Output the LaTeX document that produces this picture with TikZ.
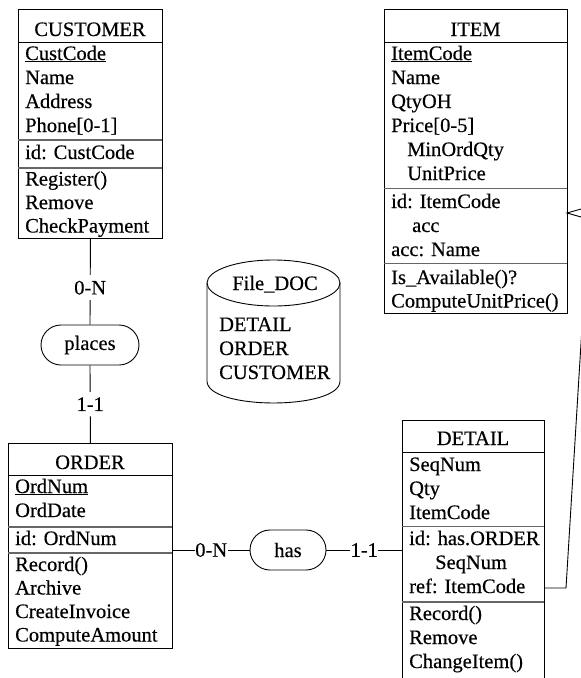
\documentclass[tikz,border=0pt]{standalone}
\usepackage{fontspec}
\setmainfont{Liberation Serif}
\newfontfamily\dbfont{Liberation Serif}[FakeBold=0.4]
\usetikzlibrary{shapes.misc}

\begin{document}
\begin{tikzpicture}[x=1pt,y=-1pt,
  txt/.style={font=\dbfont\fontsize{20.5}{24}\selectfont, inner sep=0pt},
  row/.style={txt, anchor=base west},
  head/.style={txt, anchor=base},
  box/.style={draw, line width=0.9pt, inner sep=0pt, anchor=north west},
  sep/.style={line width=0.9pt},
  sepb/.style={line width=1.3pt, black!60},
  rel/.style={draw, rounded rectangle, line width=0.9pt, txt},
  card/.style={txt, fill=white, inner xsep=0.5pt, inner ysep=5.5pt},
  link/.style={line width=0.9pt}]
\useasboundingbox (0,0) rectangle (581,678);
\clip (0,0) rectangle (581,678);

% ---------- CUSTOMER ----------
\node[box, minimum width=144pt, minimum height=229pt] (cust) at (18,9) {};
\draw[sep]  (18,42)  -- (162,42);
\draw[sepb] (18,140) -- (162,140);
\draw[sepb] (18,168) -- (162,168);
\node[head] (custT) at (90,36) {CUSTOMER};
\node[row] (cust1) at (25,60)  {\underline{CustCode}};
\node[row] (cust2) at (25,84)  {Name};
\node[row] (cust3) at (25,108) {Address};
\node[row] (cust4) at (25,132) {Phone[0-1]};
\node[row] (cust5) at (25,159) {id: CustCode};
\node[row] (cust6) at (25,185.5) {Register()};
\node[row] (cust7) at (25,209) {Remove};
\node[row] (cust8) at (25,232.5) {CheckPayment};

% ---------- ITEM ----------
\node[box, minimum width=183pt, minimum height=304pt] (item) at (384,9) {};
\draw[sep]  (384,42)  -- (567,42);
\draw[sepb] (384,188.5) -- (567,188.5);
\draw[sepb] (384,263.5) -- (567,263.5);
\node[head] (itemT) at (475.5,36) {ITEM};
\node[row] (item1) at (391,60)  {\underline{ItemCode}};
\node[row] (item2) at (391,84)  {Name};
\node[row] (item3) at (391,108) {QtyOH};
\node[row] (item4) at (391,132) {Price[0-5]};
\node[row] (item5) at (407,156) {MinOrdQty};
\node[row] (item6) at (407,180) {UnitPrice};
\node[row] (item7) at (391,208) {id: ItemCode};
\node[row] (item8) at (412,232) {acc};
\node[row] (item9) at (391,256) {acc: Name};
\node[row] (item10) at (391,284) {Is\_Available()?};
\node[row] (item11) at (391,307.5) {ComputeUnitPrice()};

% ---------- ORDER ----------
\node[box, minimum width=164pt, minimum height=205pt] (order) at (8,443) {};
\draw[sep]  (8,475) -- (172,475);
\draw[sepb] (8,527) -- (172,527);
\draw[sepb] (8,553) -- (172,553);
\node[head] (orderT) at (90,469) {ORDER};
\node[row] (ord1) at (15,493) {\underline{OrdNum}};
\node[row] (ord2) at (15,517) {OrdDate};
\node[row] (ord3) at (15,545) {id: OrdNum};
\node[row] (ord4) at (15,571) {Record()};
\node[row] (ord5) at (15,594.5) {Archive};
\node[row] (ord6) at (15,618) {CreateInvoice};
\node[row] (ord7) at (15,641.5) {ComputeAmount};

% ---------- DETAIL ----------
\node[box, minimum width=142pt, minimum height=260pt] (detail) at (402,420) {};
\draw[sep]  (402,452) -- (544,452);
\draw[sepb] (402,526.5) -- (544,526.5);
\draw[sepb] (402,602) -- (544,602);
\node[head] (detT) at (473,445) {DETAIL};
\node[row] (det1) at (409,471) {SeqNum};
\node[row] (det2) at (409,495) {Qty};
\node[row] (det3) at (409,519) {ItemCode};
\node[row] (det4) at (409,545) {id: has.ORDER};
\node[row] (det5) at (435,569) {SeqNum};
\node[row] (det6) at (409,593) {ref: ItemCode};
\node[row] (det7) at (409,620) {Record()};
\node[row] (det8) at (409,644) {Remove};
\node[row] (det9) at (409,668) {ChangeItem()};

% ---------- File_DOC (cylinder) ----------
\draw[link] (273.5,283) ellipse [x radius=66.5, y radius=23];
\draw[link] (207,283) -- (207,381) .. controls (207,410.3) and (340,410.3) .. (340,381) -- (340,283);
\node[head] (fileT) at (275,290) {File\_DOC};
\node[row] (file1) at (219,331) {DETAIL};
\node[row] (file2) at (219,355) {ORDER};
\node[row] (file3) at (219,379) {CUSTOMER};

% ---------- relationship types ----------
\node[rel, minimum width=98pt, minimum height=40pt] (places) at (90,345) {places};
\node[rel, minimum width=76pt, minimum height=40pt] (has) at (288,550) {has};

\draw[link] (cust.south) -- node[card, pos=0.57] {0-N} (places.north);
\draw[link] (places.south) -- node[card] {1-1} (order.north);
\draw[link] (order.east |- has.west) -- node[card] {0-N} (has.west);
\draw[link] (has.east) -- node[card] {1-1} (detail.west |- has.east);

% ---------- reference DETAIL.ItemCode -> ITEM ----------
\coordinate (refport) at (544,588);
\coordinate (accport) at (567,213);
\draw[link] (refport) -- (566,588) -- (589,213) -- (583,213);
\draw[link] (accport) ++(14,-4) -- (accport) -- ++(14,4);
\end{tikzpicture}
\end{document}
